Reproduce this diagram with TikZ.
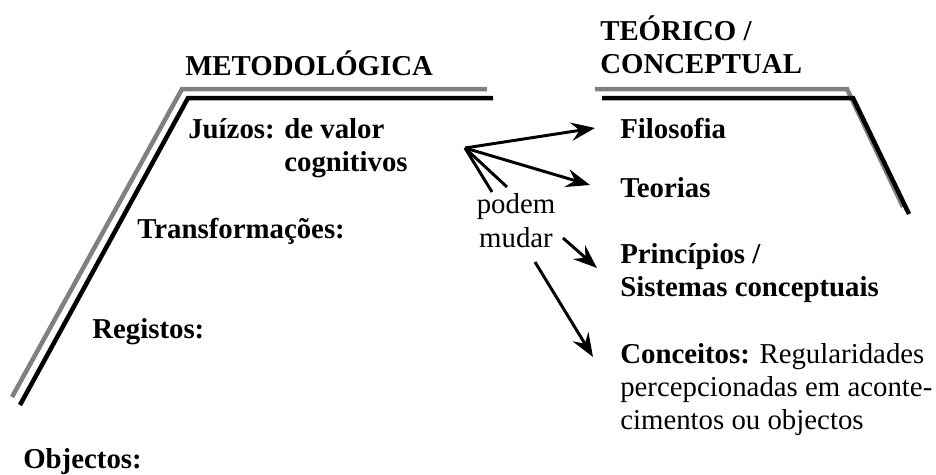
\documentclass[tikz,border=0pt]{standalone}
\usepackage{fontspec}
\setmainfont{Liberation Serif}
\usetikzlibrary{arrows.meta}

\begin{document}
\begin{tikzpicture}[
  txt/.style={inner sep=0pt, align=left, font=\fontsize{20.5}{23.5}\selectfont},
  hd/.style={txt, font=\fontsize{20.5}{23.5}\selectfont\bfseries},
  arr/.style={line width=2.1pt, -{Stealth[length=17pt,width=13pt,inset=6pt]}},
  stub/.style={line width=2.1pt},
  gline/.style={line width=3.2pt, gray},
  bline/.style={line width=3.2pt, black}]
\useasboundingbox (0,0) rectangle (23.4,11.85);

\draw[gline] (0.3,1.925)--(4.55,9.625)--(12.175,9.625);
\draw[bline] (0.5,1.725)--(4.7,9.4)--(12.325,9.4);
\draw[gline] (14.875,9.625)--(21.175,9.625)--(22.575,6.675);
\draw[bline] (15.05,9.4)--(21.325,9.4)--(22.725,6.5);

\node[hd, anchor=base west] (metodo) at (4.625,9.975) {METODOLÓGICA};
\node[hd, anchor=base west] (teorico) at (15,10.024) {TEÓRICO /\\CONCEPTUAL};

\node[hd, anchor=base west] (juizos) at (4.7,7.574) {Juízos: de valor\\\hphantom{Juízos: }cognitivos};
\node[hd, anchor=base west] (transf) at (3.425,5.9) {Transformações:};
\node[hd, anchor=base west] (registos) at (2.3,3.4) {Registos:};
\node[hd, anchor=base west] (objectos) at (0.575,0.15) {Objectos:};

\node[hd, anchor=base west] (filosofia) at (15.5,8.4) {Filosofia};
\node[hd, anchor=base west] (teorias) at (15.5,6.925) {Teorias};
\node[hd, anchor=base west] (principios) at (15.5,4.449) {Princípios /\\Sistemas conceptuais};
\node[txt, anchor=base west] (conceitos) at (15.5,1.123) {\textbf{Conceitos:} Regularidades\\percepcionadas em aconte-\\cimentos ou objectos};

\node[txt, anchor=base, align=center] (mudar) at (12.9,5.675) {podem\\mudar};

\coordinate (fan) at (11.625,8.15);
\coordinate (stubA) at (12.3,7.05);
\coordinate (stubB) at (12.675,7.175);
\coordinate (fromP) at (14.075,5.9);
\coordinate (fromC) at (13.375,5.3);

\draw[arr] (fan)--([xshift=-0.625cm,yshift=0.25cm]filosofia.base west);
\draw[arr] (fan)--([xshift=-0.75cm,yshift=0.3cm]teorias.base west);
\draw[stub] (fan)--(stubA);
\draw[stub] (fan)--(stubB);
\draw[arr] (fromP)--([xshift=-0.575cm,yshift=0.701cm]principios.base west);
\draw[arr] (fromC)--([xshift=-0.675cm,yshift=1.802cm]conceitos.base west);
\end{tikzpicture}
\end{document}
